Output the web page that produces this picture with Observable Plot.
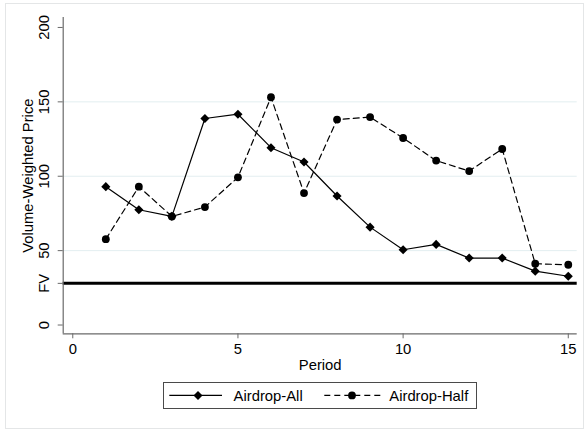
<!DOCTYPE html>
<html>
<head>
<meta charset="utf-8">
<script src="https://cdn.jsdelivr.net/npm/d3@7"></script>
<script src="https://cdn.jsdelivr.net/npm/@observablehq/plot@0.6"></script>
<style>
  html, body { margin: 0; padding: 0; background: #fff; }
  #wrap { position: relative; width: 585px; height: 430px; font-family: "Liberation Sans", Arial, sans-serif; }
  #frame { position: absolute; left: 5px; top: 3px; width: 579px; height: 426px; border: 1px solid #e4e6e7; box-sizing: border-box; pointer-events: none; }
  #chart { position: absolute; left: 0; top: 0; }
  #legend { position: absolute; left: 162.7px; top: 382.3px; width: 314px; height: 27px; border: 1px solid #4a4a4a; box-sizing: border-box; background: #fff; }
  #legend svg { position: absolute; left: 0; top: 0; }
</style>
</head>
<body>
<div id="wrap">
  <div id="frame"></div>
  <div id="chart"></div>
  <div id="legend"></div>
</div>
<script>
const periods = [1, 2, 3, 4, 5, 6, 7, 8, 9, 10, 11, 12, 13, 14, 15];
const airdropAll = [93, 77.5, 73, 138.8, 141.7, 119.2, 109.6, 86.7, 65.8, 50.6, 54.2, 45, 45, 36.2, 32.8];
const airdropHalf = [57.7, 93, 73, 79.3, 99.3, 153.1, 88.7, 138.1, 139.8, 125.7, 110.5, 103.5, 118.3, 41.2, 40.5];
const fundamentalValue = 28;
const yTicks = [0, 28, 50, 100, 150, 200];
const yTickLabels = ["0", "FV", "50", "100", "150", "200"];
const yGrid = [50, 100, 150];
const xTicks = [0, 5, 10, 15];
const seriesNames = ["Airdrop-All", "Airdrop-Half"];

const xDomain = [-0.29, 15.27];
const yDomain = [-5.9, 206.7];

const allData = periods.map((p, i) => ({period: p, price: airdropAll[i]}));
const halfData = periods.map((p, i) => ({period: p, price: airdropHalf[i]}));
const yTickData = yTicks.map((v, i) => ({v, label: yTickLabels[i]}));

const axisColor = "#6a6a6a";
const fontSize = "14.8px";

const chart = Plot.plot({
  width: 585,
  height: 375,
  marginLeft: 62.7,
  marginRight: 8.3,
  marginTop: 17,
  marginBottom: 41.7,
  x: {domain: xDomain},
  y: {domain: yDomain},
  style: {fontFamily: "'Liberation Sans', Arial, sans-serif", fontSize: fontSize, color: "#000", background: "transparent"},
  marks: [
    Plot.gridY(yGrid, {stroke: "#e3eef0", strokeOpacity: 1, strokeWidth: 1}),
    Plot.ruleY([fundamentalValue], {stroke: "#000", strokeWidth: 3}),
    Plot.line(allData, {x: "period", y: "price", stroke: "#000", strokeWidth: 1.2}),
    Plot.line(halfData, {x: "period", y: "price", stroke: "#000", strokeWidth: 1.2, strokeDasharray: "6,4"}),
    Plot.dot(allData, {x: "period", y: "price", symbol: "diamond2", r: 4.1, fill: "#000", stroke: "none"}),
    Plot.dot(halfData, {x: "period", y: "price", symbol: "circle", r: 3.9, fill: "#000", stroke: "none"}),
    Plot.ruleX([xDomain[0]], {y1: yDomain[0], y2: yDomain[1], stroke: axisColor, strokeWidth: 1.2}),
    Plot.ruleY([yDomain[0]], {x1: xDomain[0], x2: xDomain[1], stroke: axisColor, strokeWidth: 1.2}),
    Plot.axisX({ticks: xTicks, tickSize: 5, tickPadding: 4.4, stroke: axisColor, label: null, tickFormat: d => String(d)}),
    Plot.axisY({ticks: yTicks, tickSize: 5, stroke: axisColor, label: null, text: null}),
    Plot.text(yTickData, {x: () => xDomain[0], y: "v", text: "label", rotate: -90, textAnchor: "middle", lineAnchor: "middle", dx: -19.4, fill: "#000"}),
    Plot.text(["Volume-Weighted Price"], {frameAnchor: "left", rotate: -90, textAnchor: "middle", lineAnchor: "middle", dx: -35.2, fill: "#000"}),
    Plot.text(["Period"], {frameAnchor: "bottom", textAnchor: "middle", lineAnchor: "middle", dy: 31, fill: "#000"})
  ]
});
document.getElementById("chart").appendChild(chart);

// Legend
const lg = d3.select("#legend").append("svg").attr("width", 312).attr("height", 25)
  .style("font-family", "'Liberation Sans', Arial, sans-serif").style("font-size", fontSize);
const cy = 12.4;
lg.append("line").attr("x1", 5.3).attr("x2", 58).attr("y1", cy).attr("y2", cy).attr("stroke", "#000").attr("stroke-width", 1.2);
lg.append("path").attr("d", d3.symbol(d3.symbolDiamond2, 51.6)()).attr("transform", `translate(34,${cy})`).attr("fill", "#000");
lg.append("text").attr("x", 69.6).attr("y", cy).attr("dy", "0.36em").text(seriesNames[0]);
lg.append("line").attr("x1", 160.3).attr("x2", 216.3).attr("y1", cy).attr("y2", cy).attr("stroke", "#000").attr("stroke-width", 1.2).attr("stroke-dasharray", "6,4");
lg.append("circle").attr("cx", 188).attr("cy", cy).attr("r", 3.9).attr("fill", "#000");
lg.append("text").attr("x", 225.3).attr("y", cy).attr("dy", "0.36em").text(seriesNames[1]);
</script>
</body>
</html>
